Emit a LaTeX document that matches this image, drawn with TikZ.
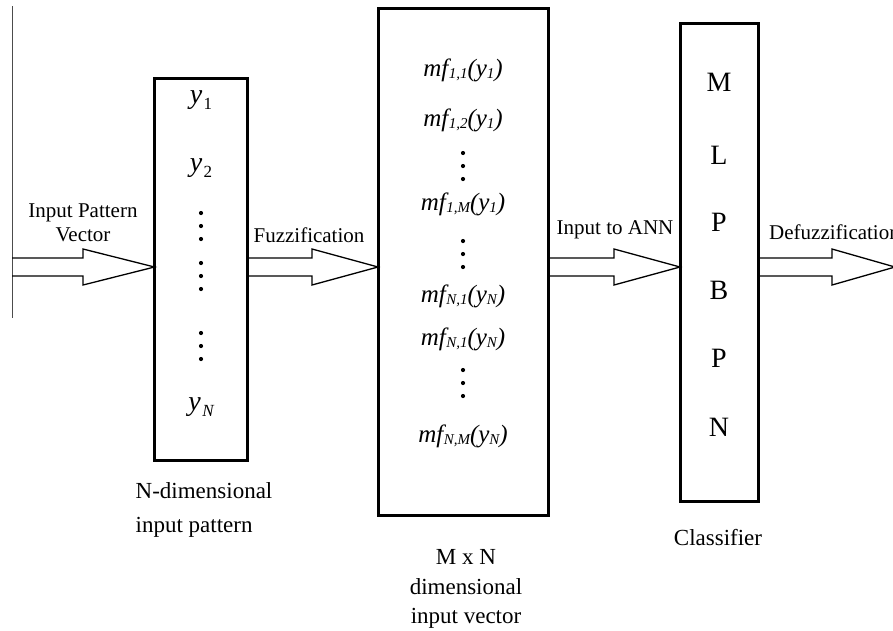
\documentclass[tikz,border=0pt]{standalone}
\usepackage{fontspec}
\setmainfont{Liberation Serif}
\usetikzlibrary{calc}
\newcommand{\sbx}[1]{\raisebox{-2.5pt}{\fontsize{15}{15}\selectfont #1}}
\newcommand{\mfx}[2]{\itshape mf\kern0.5pt\sbx{#1}(y\sbx{#2})}
\newcommand{\yx}[1]{\itshape y\kern1.5pt\raisebox{-6pt}{\fontsize{17}{17}\selectfont #1}}
\begin{document}
\begin{tikzpicture}[x=1pt,y=-1pt,
  box/.style={draw, line width=3pt, inner sep=0pt, outer sep=0pt},
  lbl/.style={font=\fontsize{21}{24}\selectfont, inner sep=0pt},
  blbl/.style={font=\fontsize{23}{30}\selectfont, inner sep=0pt},
  mfl/.style={font=\fontsize{25}{27}\selectfont, inner sep=0pt},
  yl/.style={font=\fontsize{28}{30}\selectfont, inner sep=0pt},
  letl/.style={font=\fontsize{28}{30}\selectfont, inner sep=0pt},
  arr/.style={draw, line width=1.3pt, line join=miter},
  dotc/.style={fill=black}]
\useasboundingbox (0,0) rectangle (893,630);

% left vertical line
\coordinate (vtop) at (12,6);
\coordinate (vbot) at (12,318);
\draw[line width=0.8pt, black!70] (vtop) -- (vbot);
\coordinate (vl) at (12,267);

% boxes
\node[box, minimum width=93pt, minimum height=382pt] (b1) at (201,269) {};
\node[box, minimum width=170pt, minimum height=507pt] (b2) at (463,261.5) {};
\node[box, minimum width=78pt, minimum height=478pt] (b3) at (719,262) {};
\coordinate (rend) at (895,267);

% block arrows
\newcommand{\blockarrow}[3]{%
  \draw[arr] (#1 |- 0,258) -- (#2,258) -- (#2,249) -- (#3 |- 0,267) -- (#2,285) -- (#2,276) -- (#1 |- 0,276);}
\blockarrow{vl}{83}{b1.west}
\blockarrow{b1.east}{312}{b2.west}
\blockarrow{b2.east}{614}{b3.west}
\blockarrow{b3.east}{832}{rend}

% arrow labels
\node[lbl, align=center] (lipv) at (83,223) {Input Pattern\\Vector};
\node[lbl] (lfuz) at (309,235) {Fuzzification};
\node[lbl] (lann) at (615,230) {Input to ANN};
\node[lbl, anchor=west] (ldef) at (769,232) {Defuzzification};

% box 1 contents
\node[yl] (y1) at (201,100) {\yx{\upshape 1}};
\node[yl] (y2) at (201,168) {\yx{\upshape 2}};
\node[yl] (yN) at (201,407) {\yx{N}};
\foreach \cy in {226,276,346}{
  \foreach \dd in {-13,0,13}{\fill[dotc] (201,\cy+\dd) circle (2.1pt);}}

% box 2 contents
\node[mfl] (m11) at (463,70) {\mfx{1,1}{1}};
\node[mfl] (m12) at (463,120) {\mfx{1,2}{1}};
\node[mfl] (m1M) at (463,204) {\mfx{1,M}{1}};
\node[mfl] (mN1) at (463,296) {\mfx{N,1}{N}};
\node[mfl] (mN1b) at (463,339) {\mfx{N,1}{N}};
\node[mfl] (mNM) at (463,436) {\mfx{N,M}{N}};
\foreach \cy in {166,254,383}{
  \foreach \dd in {-13,0,13}{\fill[dotc] (463,\cy+\dd) circle (2.1pt);}}

% box 3 contents
\node[letl] (lm) at (719,82) {M};
\node[letl] (ll) at (719,155) {L};
\node[letl] (lp1) at (719,222) {P};
\node[letl] (lb) at (719,290) {B};
\node[letl] (lp2) at (719,358) {P};
\node[letl] (ln) at (719,427) {N};

% bottom labels
\node[blbl, align=left, font=\fontsize{23}{34}\selectfont] (lnd) at (204,510) {N-dimensional\\input pattern};
\node[blbl, align=center, font=\fontsize{23}{29.5}\selectfont] (lmn) at (466,589) {M x N\\dimensional\\input vector};
\node[blbl] (lcl) at (718,538) {Classifier};
\end{tikzpicture}
\end{document}
